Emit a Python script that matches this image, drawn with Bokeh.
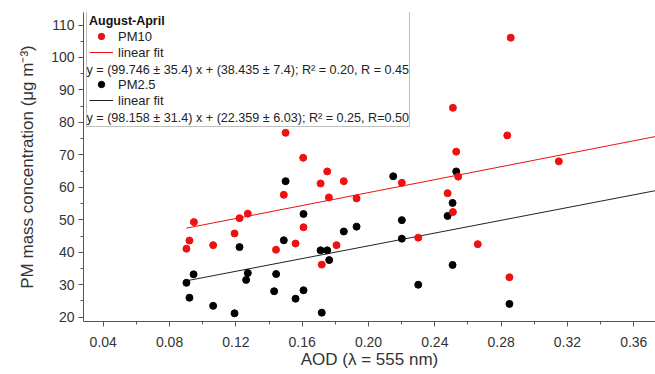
from bokeh.plotting import figure
from bokeh.models import Range1d, FixedTicker, Legend, LegendItem, Label, NumeralTickFormatter
from bokeh.embed import file_html
from bokeh.resources import INLINE

# ---- data ----
pm10_aod = [0.0902, 0.0920, 0.0947, 0.1063, 0.1192, 0.1222, 0.1272, 0.1442, 0.1500, 0.1489,
            0.1560, 0.1606, 0.1608, 0.1711, 0.1718, 0.1751, 0.1761, 0.1807, 0.1851, 0.1928,
            0.2201, 0.2300, 0.2477, 0.2509, 0.2509, 0.2529, 0.2541, 0.2659, 0.2837, 0.2850,
            0.2858, 0.3148]
pm10_conc = [41.1, 43.6, 49.3, 42.2, 45.8, 50.5, 51.9, 40.8, 76.8, 57.7,
             42.7, 69.1, 47.7, 61.2, 36.2, 64.9, 56.9, 42.2, 61.9, 56.6,
             61.4, 44.5, 58.2, 52.4, 84.5, 71.0, 63.3, 42.5, 76.0, 32.3,
             106.1, 68.0]
pm25_aod = [0.0902, 0.0920, 0.0945, 0.1063, 0.1192, 0.1222, 0.1262, 0.1272, 0.1431, 0.1443,
            0.1489, 0.1500, 0.1560, 0.1608, 0.1608, 0.1711, 0.1718, 0.1751, 0.1763, 0.1851,
            0.1928, 0.2149, 0.2201, 0.2201, 0.2300, 0.2477, 0.2507, 0.2507, 0.2529, 0.2850]
pm25_conc = [30.6, 26.0, 33.2, 23.5, 21.2, 41.6, 31.5, 33.6, 28.0, 33.3,
             43.7, 61.9, 25.7, 51.8, 28.3, 40.6, 21.4, 40.6, 37.6, 46.4,
             47.9, 63.4, 49.9, 44.2, 30.0, 51.2, 55.2, 36.1, 64.9, 24.1]

fit_pm10 = {"slope": 99.746, "intercept": 38.435}
fit_pm25 = {"slope": 98.158, "intercept": 22.359}

x_ticks = [0.04, 0.08, 0.12, 0.16, 0.20, 0.24, 0.28, 0.32, 0.36]
x_minor = [0.06, 0.10, 0.14, 0.18, 0.22, 0.26, 0.30, 0.34]
y_ticks = [20, 30, 40, 50, 60, 70, 80, 90, 100, 110]
y_minor = [25, 35, 45, 55, 65, 75, 85, 95, 105]

legend_title = "August-April"
label_pm10 = "PM10"
label_pm25 = "PM2.5"
label_fit = "linear fit"
eq_pm10 = "y = (99.746 \u00b1 35.4) x + (38.435 \u00b1 7.4); R\u00b2 = 0.20, R = 0.45"
eq_pm25 = "y = (98.158 \u00b1 31.4) x + (22.359 \u00b1 6.03); R\u00b2 = 0.25, R=0.50"
x_label = "AOD (\u03bb = 555 nm)"
y_label = "PM mass concentration (\u03bcg m\u207b\u00b3)"

# ---- styling ----
RED = "#ee1111"
BLACK = "#000000"
FONT = "Liberation Sans"
X0, X1 = 0.0281, 0.3731
Y0, Y1 = 18.68, 113.85

p = figure(width=655, height=374, output_backend="svg", toolbar_location=None,
           x_range=Range1d(X0, X1), y_range=Range1d(Y0, Y1),
           min_border_left=83, min_border_right=0, min_border_top=12, min_border_bottom=53)
p.outline_line_color = None
p.xgrid.visible = False
p.ygrid.visible = False
p.background_fill_color = "white"

def style_axis(ax):
    ax.axis_line_color = "#555555"
    ax.major_tick_line_color = "#555555"
    ax.minor_tick_line_color = "#555555"
    ax.major_tick_out = 5
    ax.major_tick_in = 0
    ax.minor_tick_out = 3
    ax.minor_tick_in = 0
    ax.major_label_text_font = FONT
    ax.major_label_text_font_size = "14px"
    ax.major_label_text_color = "#333333"
    ax.axis_label_text_font = FONT
    ax.axis_label_text_font_size = "17px"
    ax.axis_label_text_font_style = "normal"
    ax.axis_label_text_color = "#333333"

xa = p.xaxis[0]
ya = p.yaxis[0]
style_axis(xa)
style_axis(ya)
xa.ticker = FixedTicker(ticks=x_ticks, minor_ticks=x_minor)
ya.ticker = FixedTicker(ticks=y_ticks, minor_ticks=y_minor)
xa.formatter = NumeralTickFormatter(format="0.00")
xa.axis_label = x_label
ya.axis_label = y_label
xa.major_label_standoff = 10
xa.axis_label_standoff = 0
ya.major_label_standoff = 4
ya.axis_label_standoff = 11

# fit lines
def fit_line(fit, xs):
    xstart = min(xs)
    return [xstart, X1], [fit["slope"] * xstart + fit["intercept"], fit["slope"] * X1 + fit["intercept"]]

fx10, fy10 = fit_line(fit_pm10, pm10_aod)
fx25, fy25 = fit_line(fit_pm25, pm25_aod)
l25 = p.line(fx25, fy25, line_color="#222222", line_width=1)
l10 = p.line(fx10, fy10, line_color=RED, line_width=1)

s25 = p.scatter(pm25_aod, pm25_conc, size=7, fill_color=BLACK, line_color=BLACK)
s10 = p.scatter(pm10_aod, pm10_conc, size=7, fill_color=RED, line_color=RED)

blank = p.line([], [], line_alpha=0)

legend = Legend(items=[
    LegendItem(label=label_pm10, renderers=[s10]),
    LegendItem(label=label_fit, renderers=[l10]),
    LegendItem(label=" ", renderers=[blank]),
    LegendItem(label=label_pm25, renderers=[s25]),
    LegendItem(label=label_fit, renderers=[l25]),
    LegendItem(label=" ", renderers=[blank]),
])
legend.title = legend_title
legend.title_text_font = FONT
legend.title_text_font_size = "12.5px"
legend.title_text_font_style = "bold"
legend.title_text_color = "#111111"
legend.title_standoff = 0
legend.label_text_font = FONT
legend.label_text_font_size = "13px"
legend.label_text_color = "#222222"
legend.label_height = 16
legend.glyph_height = 16
legend.glyph_width = 24
legend.label_standoff = 5
legend.label_width = 289
legend.spacing = 0
legend.padding = 2
legend.margin = 0
legend.border_line_color = "#808080"
legend.border_line_width = 1
legend.background_fill_alpha = 0
legend.location = (3, 194)
p.add_layout(legend, "center")

for txt, yy in [(eq_pm10, 252), (eq_pm25, 204)]:
    p.add_layout(Label(x=3, y=yy, x_units="screen", y_units="screen", text=txt,
                       text_font=FONT, text_font_size="12.6px", text_color="#222222",
                       text_baseline="middle", text_align="left", level="overlay"))

open("out.html", "w").write(file_html(p, INLINE))
